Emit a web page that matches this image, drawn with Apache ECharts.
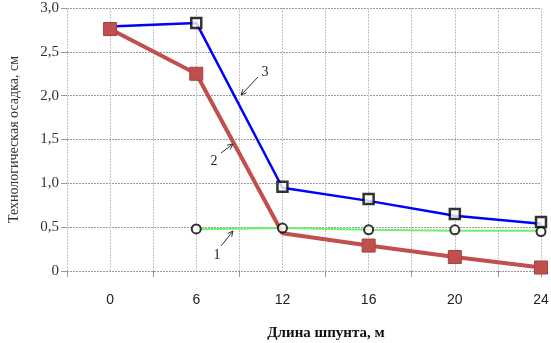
<!DOCTYPE html>
<html>
<head>
<meta charset="utf-8">
<script src="https://cdn.jsdelivr.net/npm/echarts@6/dist/echarts.min.js"></script>
<style>
  html, body { margin: 0; padding: 0; background: #fff; }
  #chart { width: 551px; height: 343px; }
</style>
</head>
<body>
<div id="chart"></div>
<script>
// Sheet pile length, m
const lengths = ['0', '6', '12', '16', '20', '24'];
// Curve 1: settlement line (green) and its measured points (open circles)
const curve1 = [null, 0.475, 0.49, 0.47, 0.46, 0.46];
const curve1Points = [null, 0.48, 0.49, 0.47, 0.47, 0.45];
// Curve 2: red line with filled squares (no marker at 12 m)
const curve2 = [2.76, 2.25, 0.43, 0.29, 0.16, 0.04];
const curve2Marked = [true, true, false, true, true, true];
// Curve 3: blue line and its points (open squares)
const curve3 = [2.79, 2.83, 0.95, 0.80, 0.63, 0.54];
const curve3Points = [null, 2.83, 0.96, 0.82, 0.65, 0.56];
// Y tick labels
const yTicks = [0, 0.5, 1.0, 1.5, 2.0, 2.5, 3.0];

// each length sits on an odd position of a 0..11 half-step scale
const pos = i => 2 * i + 1;
const pairs = arr => arr.map((v, i) => v == null ? null : [pos(i), v]);

const fmtY = v => v === 0 ? '0' : v.toFixed(1).replace('.', ',');

function arrow(x1, y1, x2, y2) {
  const a = Math.atan2(y2 - y1, x2 - x1);
  const h = 6, s = 0.45;
  const p1 = [x2 - h * Math.cos(a - s), y2 - h * Math.sin(a - s)];
  const p2 = [x2 - h * Math.cos(a + s), y2 - h * Math.sin(a + s)];
  const st = { stroke: '#333', lineWidth: 1, fill: null };
  return [
    { type: 'line', shape: { x1, y1, x2, y2 }, style: st, z: 100 },
    { type: 'polyline', shape: { points: [p1, [x2, y2], p2] }, style: st, z: 100 }
  ];
}
function note(text, x, y) {
  return { type: 'text', x, y, z: 100,
    style: { text, font: '14px "Liberation Serif"', fill: '#222', align: 'center', verticalAlign: 'middle' } };
}

const chart = echarts.init(document.getElementById('chart'));
chart.setOption({
  animation: false,
  grid: { left: 67, right: 10, top: 8, bottom: 72, containLabel: false, outerBoundsMode: 'none' },
  xAxis: [
    {
      type: 'value', min: 0, max: 11, interval: 1,
      axisLine: { show: false }, axisTick: { show: false },
      splitLine: { show: true, lineStyle: { color: '#c4c4c4', type: [2, 1], width: 1 } },
      axisLabel: {
        margin: 22, showMinLabel: true, showMaxLabel: true,
        fontFamily: 'Liberation Sans', fontSize: 14, color: '#222',
        formatter: v => (v % 2 === 1 ? lengths[(v - 1) / 2] : '')
      }
    },
    {
      type: 'value', min: 0, max: 11, interval: 2, position: 'bottom',
      axisLine: { show: false }, splitLine: { show: false }, axisLabel: { show: false },
      axisTick: { show: true, length: 6, lineStyle: { color: '#999' } }
    }
  ],
  yAxis: {
    type: 'value', min: 0, max: 3, interval: 0.5,
    name: 'Технологическая осадка, см', nameLocation: 'middle', nameGap: 46,
    nameTextStyle: { fontFamily: 'Liberation Serif', fontSize: 14, color: '#333' },
    axisLine: { show: false },
    axisTick: { show: true, length: 6, lineStyle: { color: '#999' } },
    splitLine: { show: true, lineStyle: { color: '#999', type: [2, 1], width: 1 } },
    axisLabel: { fontFamily: 'Liberation Serif', fontSize: 15, color: '#333', margin: 8,
      formatter: v => fmtY(v) }
  },
  series: [
    { type: 'line', name: '1', data: pairs(curve1), symbol: 'none', connectNulls: false,
      lineStyle: { color: '#70f070', width: 2 }, z: 2 },
    { type: 'line', name: '3', data: pairs(curve3), symbol: 'none',
      lineStyle: { color: '#0000ff', width: 2.5 }, z: 3 },
    { type: 'line', name: '2',
      data: curve2.map((v, i) => ({ value: [pos(i), v], symbol: curve2Marked[i] ? 'rect' : 'none' })),
      symbolSize: 13,
      lineStyle: { color: '#c0504d', width: 4 },
      itemStyle: { color: '#c0504d', borderColor: '#a4403d', borderWidth: 1 }, z: 4 },
    { type: 'scatter', data: pairs(curve1Points).filter(Boolean), symbol: 'circle', symbolSize: 9,
      itemStyle: { color: '#fff', borderColor: '#000', borderWidth: 2 }, z: 5 },
    { type: 'scatter', data: pairs(curve3Points).filter(Boolean), symbol: 'rect', symbolSize: 10,
      itemStyle: { color: '#fff', borderColor: '#000', borderWidth: 2.5 }, z: 6 }
  ],
  graphic: [
    ...arrow(258, 77, 241, 95),
    note('3', 265, 72),
    ...arrow(221, 153, 233, 144),
    note('2', 214, 161),
    ...arrow(221, 246, 233, 231),
    note('1', 217, 255),
    { type: 'text', x: 326, y: 333, z: 100,
      style: { text: 'Длина шпунта, м', font: 'bold 15px "Liberation Serif"', fill: '#111',
        align: 'center', verticalAlign: 'middle' } }
  ]
});
</script>
</body>
</html>
